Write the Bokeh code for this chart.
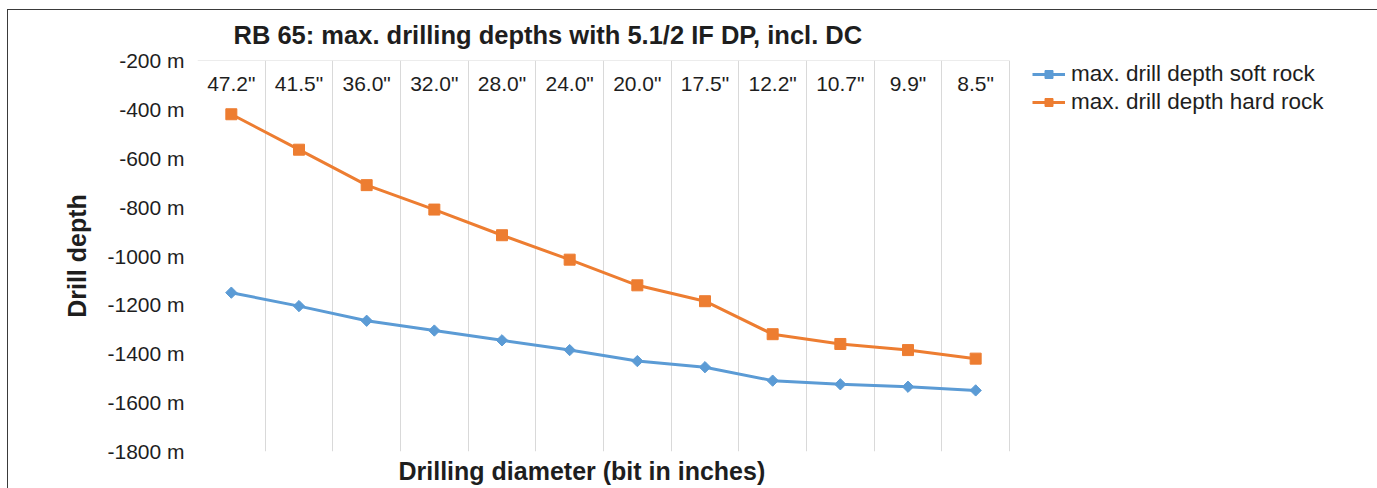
import numpy as np
from bokeh.plotting import figure
from bokeh.models import (Range1d, FixedTicker, PrintfTickFormatter,
                          Legend, LegendItem, Title)
from bokeh.embed import file_html
from bokeh.resources import INLINE

# ---- data ----
diameters = ['47.2"', '41.5"', '36.0"', '32.0"', '28.0"', '24.0"',
             '20.0"', '17.5"', '12.2"', '10.7"', '9.9"', '8.5"']
soft_rock = [-1150, -1205, -1265, -1305, -1345, -1385,
             -1430, -1455, -1510, -1525, -1535, -1550]
hard_rock = [-420, -565, -710, -810, -915, -1015,
             -1120, -1185, -1320, -1360, -1385, -1420]
y_ticks = [-200, -400, -600, -800, -1000, -1200, -1400, -1600, -1800]

title_text = "RB 65: max. drilling depths with 5.1/2 IF DP, incl. DC"
x_title = "Drilling diameter (bit in inches)"
y_title = "Drill depth"
soft_label = "max. drill depth soft rock"
hard_label = "max. drill depth hard rock"

FONT = "Liberation Sans"
TXT = "#1e1e1e"
BLUE = "#5B9BD5"
ORANGE = "#ED7D31"
W, H = 1377, 488
LEFT, TOP, BOTTOM = 197, 60, 37
CAT_PX = 812 / 12          # width of one category slot in pixels

n = len(diameters)
pos = list(range(n))                          # category slot positions
x_end = -0.5 + (W - LEFT) / CAT_PX            # frame extends under the legend

p = figure(width=W, height=H,
           x_range=Range1d(-0.5, x_end),
           y_range=Range1d(y_ticks[-1], y_ticks[0]),
           output_backend="svg", toolbar_location=None,
           min_border_left=LEFT, min_border_right=0,
           min_border_top=TOP, min_border_bottom=BOTTOM)
p.styles = {"box-shadow": "inset 7px 9px 0 0 #ffffff, inset 8px 10px 0 0 #3a3a3a"}
p.outline_line_color = None
p.background_fill_color = None
p.border_fill_color = None

p.add_layout(Title(text=title_text, align="left", offset=36, standoff=23,
                   text_font=FONT, text_font_size="25.5px", text_font_style="bold",
                   text_color=TXT), "above")
p.add_layout(Title(text=x_title, align="left", offset=201, standoff=7,
                   text_font=FONT, text_font_size="25px", text_font_style="bold",
                   text_color=TXT), "below")

# category axis, drawn at the top line of the frame with labels inside
xa = p.xaxis[0]
xa.fixed_location = y_ticks[0]
xa.bounds = (-0.5, n - 0.5)
xa.ticker = FixedTicker(ticks=pos)
xa.major_label_overrides = {i: d for i, d in zip(pos, diameters)}
xa.axis_line_color = "#D9D9D9"
xa.major_tick_line_color = None
xa.minor_tick_line_color = None
xa.major_label_text_font = FONT
xa.major_label_text_font_size = "21px"
xa.major_label_text_color = TXT
xa.major_label_standoff = 5

p.xgrid.ticker = FixedTicker(ticks=[i - 0.5 for i in range(n + 1)])
p.xgrid.grid_line_color = "#D9D9D9"
p.xgrid.grid_line_width = 1
p.ygrid.visible = False

ya = p.yaxis[0]
ya.ticker = FixedTicker(ticks=y_ticks)
ya.formatter = PrintfTickFormatter(format="%d m")
ya.axis_line_color = None
ya.major_tick_line_color = None
ya.minor_tick_line_color = None
ya.major_label_text_font = FONT
ya.major_label_text_font_size = "21px"
ya.major_label_text_color = TXT
ya.major_label_standoff = 7
ya.axis_label = y_title
ya.axis_label_text_font = FONT
ya.axis_label_text_font_size = "25px"
ya.axis_label_text_font_style = "bold"
ya.axis_label_text_color = TXT
ya.axis_label_standoff = 13

l1 = p.line(pos, soft_rock, line_color=BLUE, line_width=3)
s1 = p.scatter(pos, soft_rock, marker="square", angle=np.pi / 4, size=8,
               fill_color=BLUE, line_color=BLUE)
l2 = p.line(pos, hard_rock, line_color=ORANGE, line_width=3)
s2 = p.scatter(pos, hard_rock, marker="square", size=11,
               fill_color=ORANGE, line_color=ORANGE)

legend = Legend(items=[LegendItem(label=soft_label, renderers=[l1, s1]),
                       LegendItem(label=hard_label, renderers=[l2, s2])],
                location=(835, 335), border_line_color=None,
                background_fill_alpha=0, padding=0, margin=0, spacing=0,
                label_text_font=FONT, label_text_font_size="22.5px",
                label_text_color=TXT, glyph_width=33, glyph_height=20,
                label_height=28, label_standoff=6)
p.add_layout(legend, "center")

open("out.html", "w").write(file_html(p, INLINE))
